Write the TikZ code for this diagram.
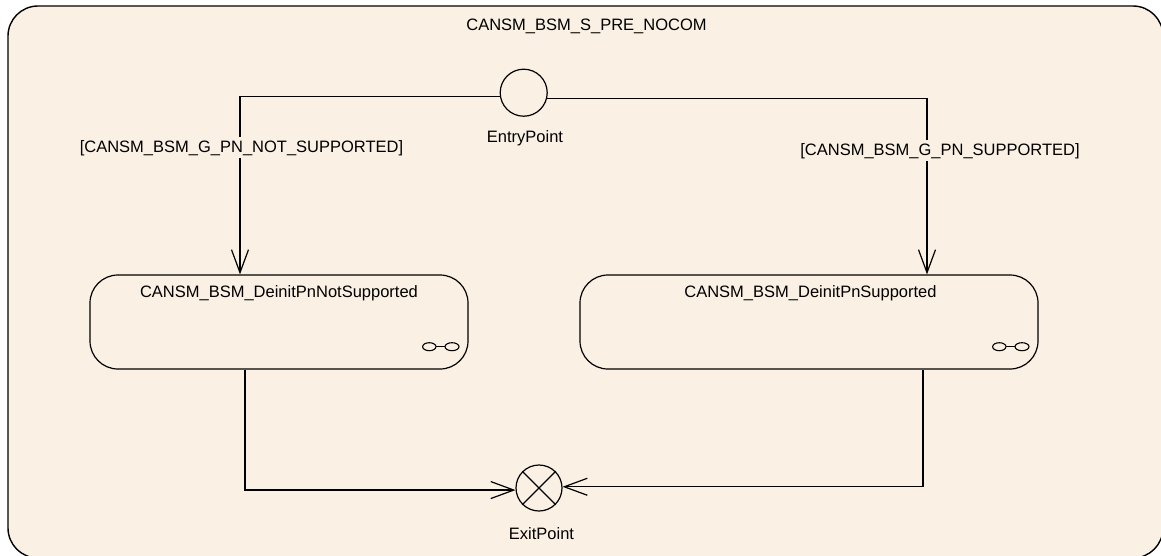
\documentclass[tikz,border=0pt]{standalone}
\usepackage{fontspec}
\setmainfont{Liberation Sans}
\usetikzlibrary{arrows.meta}
\definecolor{bgfill}{RGB}{250,240,227}
\tikzset{
  txt/.style={font=\fontsize{16.5pt}{19pt}\selectfont, inner sep=0pt, anchor=base, text=black},
  lbl/.style={txt, fill=bgfill, inner sep=3pt},
  frame/.style={draw, line width=1.4pt, fill=bgfill, rounded corners=30pt, minimum width=1155pt, minimum height=552pt, inner sep=0pt},
  statebox/.style={draw, line width=1.2pt, fill=bgfill, rounded corners=28pt, inner sep=0pt},
  pseudo/.style={draw, circle, line width=1.2pt, fill=bgfill, inner sep=0pt},
  arr/.style={line width=1.2pt, -{Straight Barb[length=23pt,width=17pt,line width=1.2pt]}},
  icon/.style={line width=1.1pt}
}
\begin{document}
\begin{tikzpicture}[x=1pt,y=-1pt]
\useasboundingbox (0,0) rectangle (1161,555);
\clip (0,0) rectangle (1161,555);
\node[frame] (outer) at (585.5,282) {};
\node[txt] (outertitle) at (586.5,30) {CANSM\_BSM\_S\_PRE\_NOCOM};

\node[pseudo, minimum size=47pt] (entry) at (523.7,92.7) {};
\node[txt] (entrylbl) at (525,142) {EntryPoint};

\node[statebox, minimum width=378pt, minimum height=94pt] (s1) at (279,322) {};
\node[txt] (s1t) at (279,297) {CANSM\_BSM\_DeinitPnNotSupported};
\node[statebox, minimum width=458pt, minimum height=94pt] (s2) at (809,322) {};
\node[txt] (s2t) at (810.5,297) {CANSM\_BSM\_DeinitPnSupported};

\node[pseudo, minimum size=46pt] (exit) at (539,488) {};
\draw[line width=1.2pt] (exit.north east) -- (exit.south west) (exit.north west) -- (exit.south east);
\node[txt] (exitlbl) at (541.5,539) {ExitPoint};

\draw[arr] (entry.190) -| ([xshift=-39pt]s1.north);
\draw[arr] (entry.346) -| ([xshift=118pt]s2.north);
\draw[arr] ([xshift=-34pt]s1.south) |- (exit.185);
\draw[arr] ([xshift=114pt]s2.south) |- (exit.3);

\node[lbl] (l1) at (241.5,152) {[CANSM\_BSM\_G\_PN\_NOT\_SUPPORTED]};
\node[lbl] (l2) at (940,155) {[CANSM\_BSM\_G\_PN\_SUPPORTED]};

\draw[icon] (429.3,346.7) ellipse [x radius=6.7pt, y radius=4pt];
\draw[icon] (452,346.7) ellipse [x radius=7pt, y radius=4pt];
\draw[icon] (436,346.7) -- (445,346.7);
\draw[icon] (999.3,346.7) ellipse [x radius=6.7pt, y radius=4pt];
\draw[icon] (1022,346.7) ellipse [x radius=7pt, y radius=4pt];
\draw[icon] (1006,346.7) -- (1015,346.7);
\end{tikzpicture}
\end{document}
